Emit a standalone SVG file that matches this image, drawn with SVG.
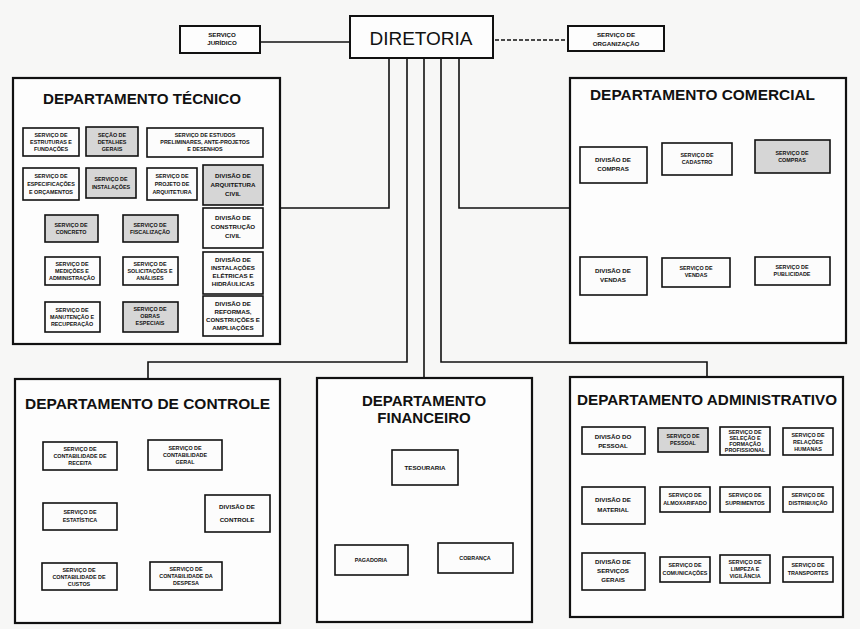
<svg xmlns="http://www.w3.org/2000/svg" width="860" height="629" viewBox="0 0 860 629">
<style>
.dept{fill:#fdfdfd;stroke:#111;stroke-width:2.2}
.box{fill:#fcfcfc;stroke:#111;stroke-width:1.6}
.sh{fill:#d6d6d6;stroke:#111;stroke-width:1.6}
.top{fill:#fdfdfd;stroke:#111;stroke-width:2}
.t{font-family:"Liberation Sans",Arial,sans-serif;font-weight:bold;fill:#111;text-anchor:middle}
.s{font-size:5.4px}
.m{font-size:6.2px}
.ti{font-size:15px;font-weight:bold;font-family:"Liberation Sans",Arial,sans-serif;fill:#111}
.ln{fill:none;stroke:#111;stroke-width:1.6}
.fa{fill:none;stroke:#999;stroke-width:1;stroke-dasharray:3 2}
</style>
<rect x="0" y="0" width="860" height="629" fill="#f7f7f6"/>

<g id="connectors">
  <path class="ln" d="M260 42 H350"/>
  <path class="ln" d="M495 40 H570" stroke-dasharray="4 2"/>
  <path class="ln" d="M389 58 V208 H280"/>
  <path class="ln" d="M459 58 V208 H570"/>
  <path class="ln" d="M407 58 V362 H148 V379"/>
  <path class="ln" d="M424 58 V378"/>
  <path class="ln" d="M441 58 V362 H707 V377"/>
  <path class="fa" d="M30 210 H200 M60 250 H200 M110 250 V330"/>
  <path class="ln" d="M187 470 V562 M80 482 H187 M117 517 H205"/>
  <path class="fa" d="M80 548 H187"/>
  <path class="ln" d="M424 485 V530 H372 V545"/>
</g>

<g id="servico-juridico">
  <rect class="top" x="180" y="26" width="80" height="27"/>
  <text class="t m" x="222" y="37">SERVIÇO</text>
  <text class="t m" x="222" y="45">JURÍDICO</text>
</g>
<g id="diretoria">
  <rect class="top" x="350" y="16" width="143" height="42"/>
  <text x="421" y="45" font-family="'Liberation Sans',Arial,sans-serif" font-size="19" fill="#111" text-anchor="middle">DIRETORIA</text>
</g>
<g id="servico-organizacao">
  <rect class="top" x="568" y="26" width="96" height="25"/>
  <text class="t m" x="616" y="37">SERVIÇO   DE</text>
  <text class="t m" x="616" y="46">ORGANIZAÇÃO</text>
</g>

<g id="dept-tecnico">
  <rect class="dept" x="13" y="78" width="267" height="266"/>
  <text class="ti" x="43" y="104" textLength="198" lengthAdjust="spacingAndGlyphs">DEPARTAMENTO  TÉCNICO</text>
  <g id="t1"><rect class="box" x="23" y="128" width="56" height="28"/><text class="t s" x="51" y="137">SERVIÇO DE</text><text class="t s" x="51" y="144">ESTRUTURAS E</text><text class="t s" x="51" y="151">FUNDAÇÕES</text></g>
  <g id="t2"><rect class="sh" x="86" y="127" width="52" height="29"/><text class="t s" x="112" y="137">SEÇÃO DE</text><text class="t s" x="112" y="144">DETALHES</text><text class="t s" x="112" y="151">GERAIS</text></g>
  <g id="t3"><rect class="box" x="147" y="128" width="116" height="29"/><text class="t s" x="205" y="137">SERVIÇO DE ESTUDOS</text><text class="t s" x="205" y="144">PRELIMINARES, ANTE-PROJETOS</text><text class="t s" x="205" y="151">E DESENHOS</text></g>
  <g id="t4"><rect class="box" x="23" y="168" width="56" height="32"/><text class="t s" x="51" y="178">SERVIÇO DE</text><text class="t s" x="51" y="186">ESPECIFICAÇÕES</text><text class="t s" x="51" y="194">E ORÇAMENTOS</text></g>
  <g id="t5"><rect class="sh" x="86" y="168" width="50" height="30"/><text class="t s" x="111" y="181">SERVIÇO DE</text><text class="t s" x="111" y="189">INSTALAÇÕES</text></g>
  <g id="t6"><rect class="box" x="147" y="168" width="50" height="32"/><text class="t s" x="172" y="178">SERVIÇO DE</text><text class="t s" x="172" y="186">PROJETO DE</text><text class="t s" x="172" y="194">ARQUITETURA</text></g>
  <g id="t7"><rect class="sh" x="203" y="165" width="60" height="40"/><text class="t m" x="233" y="178">DIVISÃO DE</text><text class="t m" x="233" y="187">ARQUITETURA</text><text class="t m" x="233" y="196">CIVIL</text></g>
  <g id="t8"><rect class="sh" x="45" y="215" width="53" height="27"/><text class="t s" x="71" y="227">SERVIÇO DE</text><text class="t s" x="71" y="234">CONCRETO</text></g>
  <g id="t9"><rect class="sh" x="123" y="215" width="55" height="27"/><text class="t s" x="150" y="227">SERVIÇO DE</text><text class="t s" x="150" y="234">FISCALIZAÇÃO</text></g>
  <g id="t10"><rect class="box" x="203" y="208" width="60" height="40"/><text class="t m" x="233" y="220">DIVISÃO DE</text><text class="t m" x="233" y="229">CONSTRUÇÃO</text><text class="t m" x="233" y="238">CIVIL</text></g>
  <g id="t11"><rect class="box" x="45" y="257" width="55" height="28"/><text class="t s" x="72" y="266">SERVIÇO DE</text><text class="t s" x="72" y="273">MEDIÇÕES E</text><text class="t s" x="72" y="280">ADMINISTRAÇÃO</text></g>
  <g id="t12"><rect class="box" x="123" y="257" width="55" height="28"/><text class="t s" x="150" y="266">SERVIÇO DE</text><text class="t s" x="150" y="273">SOLICITAÇÕES E</text><text class="t s" x="150" y="280">ANÁLISES</text></g>
  <g id="t13"><rect class="box" x="203" y="252" width="60" height="42"/><text class="t m" x="233" y="262">DIVISÃO DE</text><text class="t m" x="233" y="270">INSTALAÇÕES</text><text class="t m" x="233" y="278">ELÉTRICAS E</text><text class="t m" x="233" y="286">HIDRÁULICAS</text></g>
  <g id="t14"><rect class="box" x="45" y="302" width="55" height="30"/><text class="t s" x="72" y="312">SERVIÇO DE</text><text class="t s" x="72" y="319">MANUTENÇÃO E</text><text class="t s" x="72" y="326">RECUPERAÇÃO</text></g>
  <g id="t15"><rect class="sh" x="123" y="302" width="55" height="30" fill="#bbb"/><text class="t s" x="150" y="311">SERVIÇO DE</text><text class="t s" x="150" y="318">OBRAS</text><text class="t s" x="150" y="325">ESPECIAIS</text></g>
  <g id="t16"><rect class="box" x="203" y="296" width="60" height="40"/><text class="t m" x="233" y="306">DIVISÃO DE</text><text class="t m" x="233" y="314">REFORMAS,</text><text class="t m" x="233" y="322">CONSTRUÇÕES E</text><text class="t m" x="233" y="330">AMPLIAÇÕES</text></g>
</g>

<g id="dept-comercial">
  <rect class="dept" x="570" y="78" width="276" height="265"/>
  <text class="ti" x="590" y="100" textLength="225" lengthAdjust="spacingAndGlyphs">DEPARTAMENTO  COMERCIAL</text>
  <g id="c1"><rect class="box" x="580" y="147" width="67" height="36"/><text class="t m" x="613" y="162">DIVISÃO DE</text><text class="t m" x="613" y="171">COMPRAS</text></g>
  <g id="c2"><rect class="box" x="662" y="143" width="70" height="32"/><text class="t s" x="697" y="157">SERVIÇO DE</text><text class="t s" x="697" y="164">CADASTRO</text></g>
  <g id="c3"><rect class="sh" x="755" y="140" width="75" height="33"/><text class="t s" x="792" y="155">SERVIÇO DE</text><text class="t s" x="792" y="162">COMPRAS</text></g>
  <g id="c4"><rect class="box" x="580" y="257" width="67" height="38"/><text class="t m" x="613" y="273">DIVISÃO DE</text><text class="t m" x="613" y="282">VENDAS</text></g>
  <g id="c5"><rect class="box" x="662" y="258" width="68" height="29"/><text class="t s" x="696" y="270">SERVIÇO DE</text><text class="t s" x="696" y="277">VENDAS</text></g>
  <g id="c6"><rect class="box" x="755" y="257" width="75" height="28"/><text class="t s" x="792" y="269">SERVIÇO DE</text><text class="t s" x="792" y="276">PUBLICIDADE</text></g>
</g>

<g id="dept-controle">
  <rect class="dept" x="15" y="379" width="265" height="244"/>
  <text class="ti" x="25" y="409" font-size="17" textLength="245" lengthAdjust="spacingAndGlyphs">DEPARTAMENTO  DE  CONTROLE</text>
  <g id="k1"><rect class="box" x="43" y="442" width="74" height="28"/><text class="t s" x="80" y="451">SERVIÇO DE</text><text class="t s" x="80" y="458">CONTABILIDADE DE</text><text class="t s" x="80" y="465">RECEITA</text></g>
  <g id="k2"><rect class="box" x="148" y="440" width="74" height="30"/><text class="t s" x="185" y="450">SERVIÇO DE</text><text class="t s" x="185" y="457">CONTABILIDADE</text><text class="t s" x="185" y="464">GERAL</text></g>
  <g id="k3"><rect class="box" x="43" y="503" width="74" height="27"/><text class="t s" x="80" y="514">SERVIÇO DE</text><text class="t s" x="80" y="522">ESTATÍSTICA</text></g>
  <g id="k4"><rect class="box" x="205" y="495" width="65" height="37"/><text class="t m" x="237" y="509">DIVISÃO DE</text><text class="t m" x="237" y="522">CONTROLE</text></g>
  <g id="k5"><rect class="box" x="42" y="563" width="75" height="27"/><text class="t s" x="79" y="572">SERVIÇO DE</text><text class="t s" x="79" y="579">CONTABILIDADE DE</text><text class="t s" x="79" y="586">CUSTOS</text></g>
  <g id="k6"><rect class="box" x="150" y="562" width="72" height="28"/><text class="t s" x="186" y="571">SERVIÇO DE</text><text class="t s" x="186" y="578">CONTABILIDADE DA</text><text class="t s" x="186" y="585">DESPESA</text></g>
</g>

<g id="dept-financeiro">
  <rect class="dept" x="317" y="378" width="215" height="244"/>
  <text class="ti" x="424" y="406" text-anchor="middle">DEPARTAMENTO</text>
  <text class="ti" x="424" y="423" text-anchor="middle">FINANCEIRO</text>
  <g id="f1"><rect class="box" x="392" y="450" width="66" height="35"/><text class="t m" x="425" y="470">TESOURARIA</text></g>
  <g id="f2"><rect class="box" x="335" y="545" width="73" height="30"/><text class="t s" x="371" y="562">PAGADORIA</text></g>
  <g id="f3"><rect class="box" x="438" y="543" width="75" height="30"/><text class="t s" x="475" y="560">COBRANÇA</text></g>
</g>

<g id="dept-administrativo">
  <rect class="dept" x="570" y="377" width="273" height="240"/>
  <text class="ti" x="577" y="405" textLength="260" lengthAdjust="spacingAndGlyphs">DEPARTAMENTO  ADMINISTRATIVO</text>
  <g id="a1"><rect class="box" x="582" y="427" width="63" height="27"/><text class="t m" x="613" y="439">DIVISÃO DO</text><text class="t m" x="613" y="448">PESSOAL</text></g>
  <g id="a2"><rect class="sh" x="658" y="428" width="50" height="24"/><text class="t s" x="683" y="438">SERVIÇO DE</text><text class="t s" x="683" y="445">PESSOAL</text></g>
  <g id="a3"><rect class="box" x="720" y="427" width="50" height="28"/><text class="t s" x="745" y="434">SERVIÇO DE</text><text class="t s" x="745" y="440">SELEÇÃO E</text><text class="t s" x="745" y="446">FORMAÇÃO</text><text class="t s" x="745" y="452">PROFISSIONAL</text></g>
  <g id="a4"><rect class="box" x="783" y="428" width="50" height="27"/><text class="t s" x="808" y="437">SERVIÇO DE</text><text class="t s" x="808" y="444">RELAÇÕES</text><text class="t s" x="808" y="451">HUMANAS</text></g>
  <g id="a5"><rect class="box" x="582" y="487" width="63" height="37"/><text class="t m" x="613" y="502">DIVISÃO DE</text><text class="t m" x="613" y="512">MATERIAL</text></g>
  <g id="a6"><rect class="box" x="660" y="487" width="50" height="25"/><text class="t s" x="685" y="497">SERVIÇO DE</text><text class="t s" x="685" y="505">ALMOXARIFADO</text></g>
  <g id="a7"><rect class="box" x="720" y="487" width="50" height="25"/><text class="t s" x="745" y="497">SERVIÇO DE</text><text class="t s" x="745" y="505">SUPRIMENTOS</text></g>
  <g id="a8"><rect class="box" x="783" y="487" width="50" height="25"/><text class="t s" x="808" y="497">SERVIÇO DE</text><text class="t s" x="808" y="505">DISTRIBUIÇÃO</text></g>
  <g id="a9"><rect class="box" x="582" y="553" width="63" height="37"/><text class="t m" x="613" y="564">DIVISÃO DE</text><text class="t m" x="613" y="573">SERVIÇOS</text><text class="t m" x="613" y="582">GERAIS</text></g>
  <g id="a10"><rect class="box" x="660" y="557" width="50" height="25"/><text class="t s" x="685" y="567">SERVIÇO DE</text><text class="t s" x="685" y="575">COMUNICAÇÕES</text></g>
  <g id="a11"><rect class="box" x="720" y="555" width="50" height="28"/><text class="t s" x="745" y="564">SERVIÇO DE</text><text class="t s" x="745" y="571">LIMPEZA E</text><text class="t s" x="745" y="578">VIGILÂNCIA</text></g>
  <g id="a12"><rect class="box" x="783" y="557" width="50" height="25"/><text class="t s" x="808" y="567">SERVIÇO DE</text><text class="t s" x="808" y="575">TRANSPORTES</text></g>
</g>
</svg>
